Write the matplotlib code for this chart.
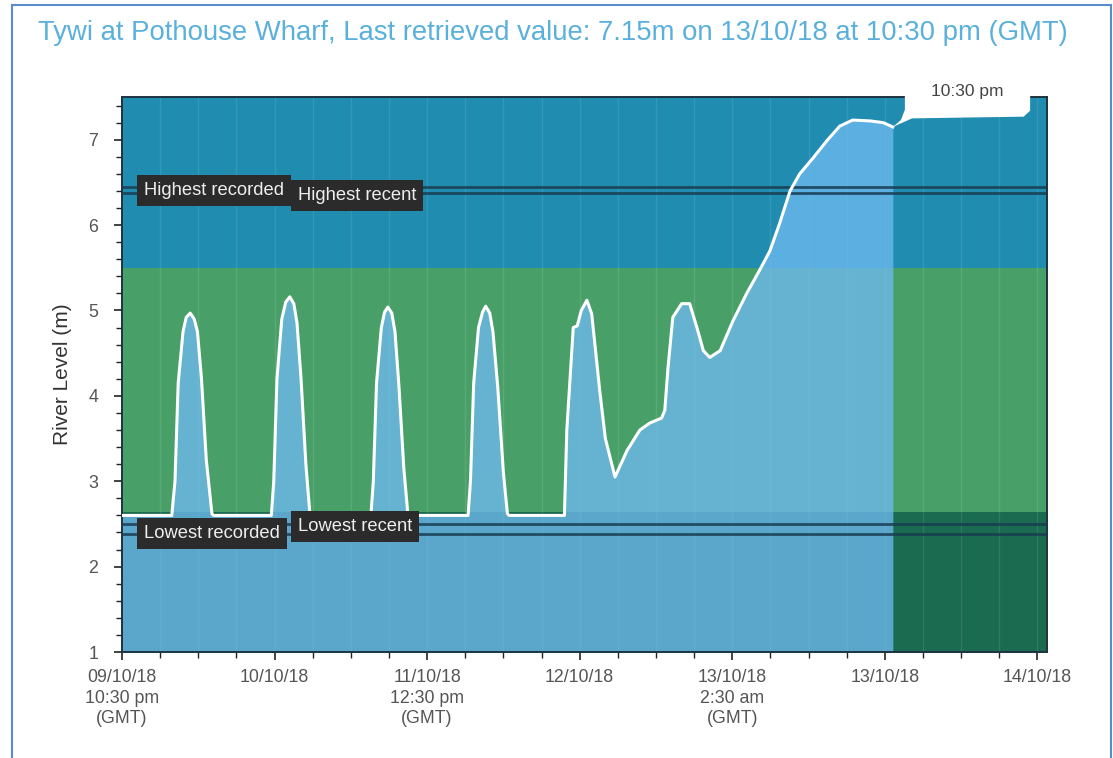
import matplotlib.pyplot as plt
from matplotlib.patches import Polygon, Rectangle

plt.rcParams['font.family'] = ['Liberation Sans', 'DejaVu Sans']

# hours since 09/10/18 10:30 pm (GMT), river level in metres
hours = [0.0, 6.2, 6.6, 7.0, 7.6, 8.0, 8.5, 9.0, 9.4, 9.9, 10.5, 11.2, 11.4,
         18.6, 18.9, 19.3, 19.9, 20.4, 20.9, 21.4, 21.8, 22.3, 22.9, 23.4, 23.6,
         31.0, 31.3, 31.7, 32.3, 32.7, 33.1, 33.6, 34.0, 34.5, 35.1, 35.6, 35.8,
         43.1, 43.4, 43.8, 44.4, 44.9, 45.3, 45.8, 46.2, 46.8, 47.5, 48.0, 48.2,
         55.1, 55.4, 56.2, 56.7, 57.2, 57.9, 58.5, 59.5, 60.2, 61.4, 62.9, 64.5,
         65.7, 67.2, 67.6, 68.0, 68.6, 69.7, 70.7, 71.6, 72.4, 73.2, 74.5, 76.1,
         77.8, 79.4, 80.7, 81.9, 83.2, 84.4, 86.1, 87.8, 89.4, 91.0, 93.2, 94.8, 96.0]
level = [2.60, 2.60, 3.00, 4.15, 4.75, 4.92, 4.97, 4.90, 4.75, 4.20, 3.25, 2.62, 2.60,
         2.60, 3.00, 4.20, 4.90, 5.10, 5.16, 5.08, 4.85, 4.20, 3.20, 2.62, 2.60,
         2.60, 3.00, 4.15, 4.80, 4.98, 5.04, 4.97, 4.75, 4.10, 3.15, 2.62, 2.60,
         2.60, 3.00, 4.15, 4.80, 4.98, 5.05, 4.97, 4.75, 4.10, 3.10, 2.62, 2.60,
         2.60, 3.60, 4.80, 4.82, 5.00, 5.12, 4.96, 4.06, 3.50, 3.05, 3.36, 3.60,
         3.68, 3.74, 3.83, 4.33, 4.92, 5.08, 5.08, 4.80, 4.53, 4.45, 4.53, 4.88,
         5.20, 5.47, 5.70, 6.02, 6.40, 6.60, 6.79, 6.99, 7.16, 7.23, 7.22, 7.20, 7.15]

band_edges = [1.0, 2.64, 5.5, 7.5]
band_colors = ['#1a6b50', '#48a068', '#1f8cb0']

threshold_names = ['Highest recorded', 'Highest recent', 'Lowest recent', 'Lowest recorded']
threshold_values = [6.45, 6.38, 2.50, 2.38]

tick_hours = [0, 19, 38, 57, 76, 95, 114]
tick_labels = ['09/10/18\n10:30 pm\n(GMT)', '10/10/18', '11/10/18\n12:30 pm\n(GMT)',
               '12/10/18', '13/10/18\n2:30 am\n(GMT)', '13/10/18', '14/10/18']

x_max = 115.2

fig = plt.figure(figsize=(11.13, 7.58), dpi=100)
ax = fig.add_axes([0.1096, 0.1398, 0.8311, 0.7322])

# background bands
for i in range(3):
    ax.axhspan(band_edges[i], band_edges[i + 1], color=band_colors[i], lw=0, zorder=0)

# faint vertical grid at minor ticks
minor = [i * 4.75 for i in range(25)]
for m in minor:
    ax.axvline(m, color='white', alpha=0.1, lw=1, zorder=1)

# data
ax.fill_between(hours, 1, level, color='#6eb9f0', alpha=0.78, lw=0, zorder=2)
ax.plot(hours, level, color='white', lw=2.2, zorder=4, solid_joinstyle='round')

# thresholds
for v in threshold_values:
    ax.axhline(v, color='#183c50', lw=2, alpha=0.85, zorder=3)

box = dict(boxstyle='square,pad=0.38', fc='#2b2b2b', ec='none')
lab = dict(color='#eeeeee', fontsize=13.2, ha='left', va='center', bbox=box, zorder=6)
ax.text(2.7, threshold_values[0] - 0.04, threshold_names[0], **lab)
ax.text(21.9, threshold_values[1] - 0.03, threshold_names[1], **lab)
ax.text(21.9, threshold_values[2] - 0.03, threshold_names[2], **lab)
ax.text(2.7, threshold_values[3] + 0.01, threshold_names[3], **lab)

# callout for latest reading
tx, ty = hours[-1], level[-1]
callout = Polygon([(tx, ty), (tx + 1.0, ty + 0.08), (tx + 1.5, ty + 0.2), (tx + 1.5, ty + 0.7),
                   (tx + 17.1, ty + 0.7), (tx + 17.1, ty + 0.19), (tx + 16.3, ty + 0.12),
                   (tx + 2.4, ty + 0.10)],
                  closed=True, fc='white', ec='none', zorder=7, clip_on=False)
ax.add_patch(callout)
ax.text(tx + 9.3, 7.57, '10:30 pm', color='#444444', fontsize=12.5, ha='center', va='center',
        zorder=8, clip_on=False)

ax.set_xlim(0, x_max)
ax.set_ylim(1, 7.5)
ax.set_xticks(tick_hours)
ax.set_xticklabels(tick_labels, linespacing=1.3)
ax.set_xticks(minor, minor=True)
ax.set_yticks(range(1, 8))
ax.set_yticks([1 + 0.2 * i for i in range(33)], minor=True)
ax.tick_params(axis='both', which='major', length=6, width=1.2, color='#222222',
               labelsize=12.8, labelcolor='#555555', pad=6)
ax.tick_params(axis='y', which='major', pad=11)
ax.tick_params(axis='both', which='minor', length=4, width=1, color='#222222')
ax.set_ylabel('River Level (m)', fontsize=15, color='#333333', labelpad=12)

for s in ax.spines.values():
    s.set_color('#1d3340')
    s.set_linewidth(1.4)

fig.text(38 / 1113, 1 - 33 / 758,
         'Tywi at Pothouse Wharf, Last retrieved value: 7.15m on 13/10/18 at 10:30 pm (GMT)',
         color='#5ab0dc', fontsize=19.8, ha='left', va='center')

fig.patches.append(Rectangle((12 / 1113, -0.02), 1099 / 1113, 1.02 - 5 / 758,
                             transform=fig.transFigure, fill=False, ec='#5b8bd0', lw=1.5))

fig.savefig('out.png', dpi=100)
